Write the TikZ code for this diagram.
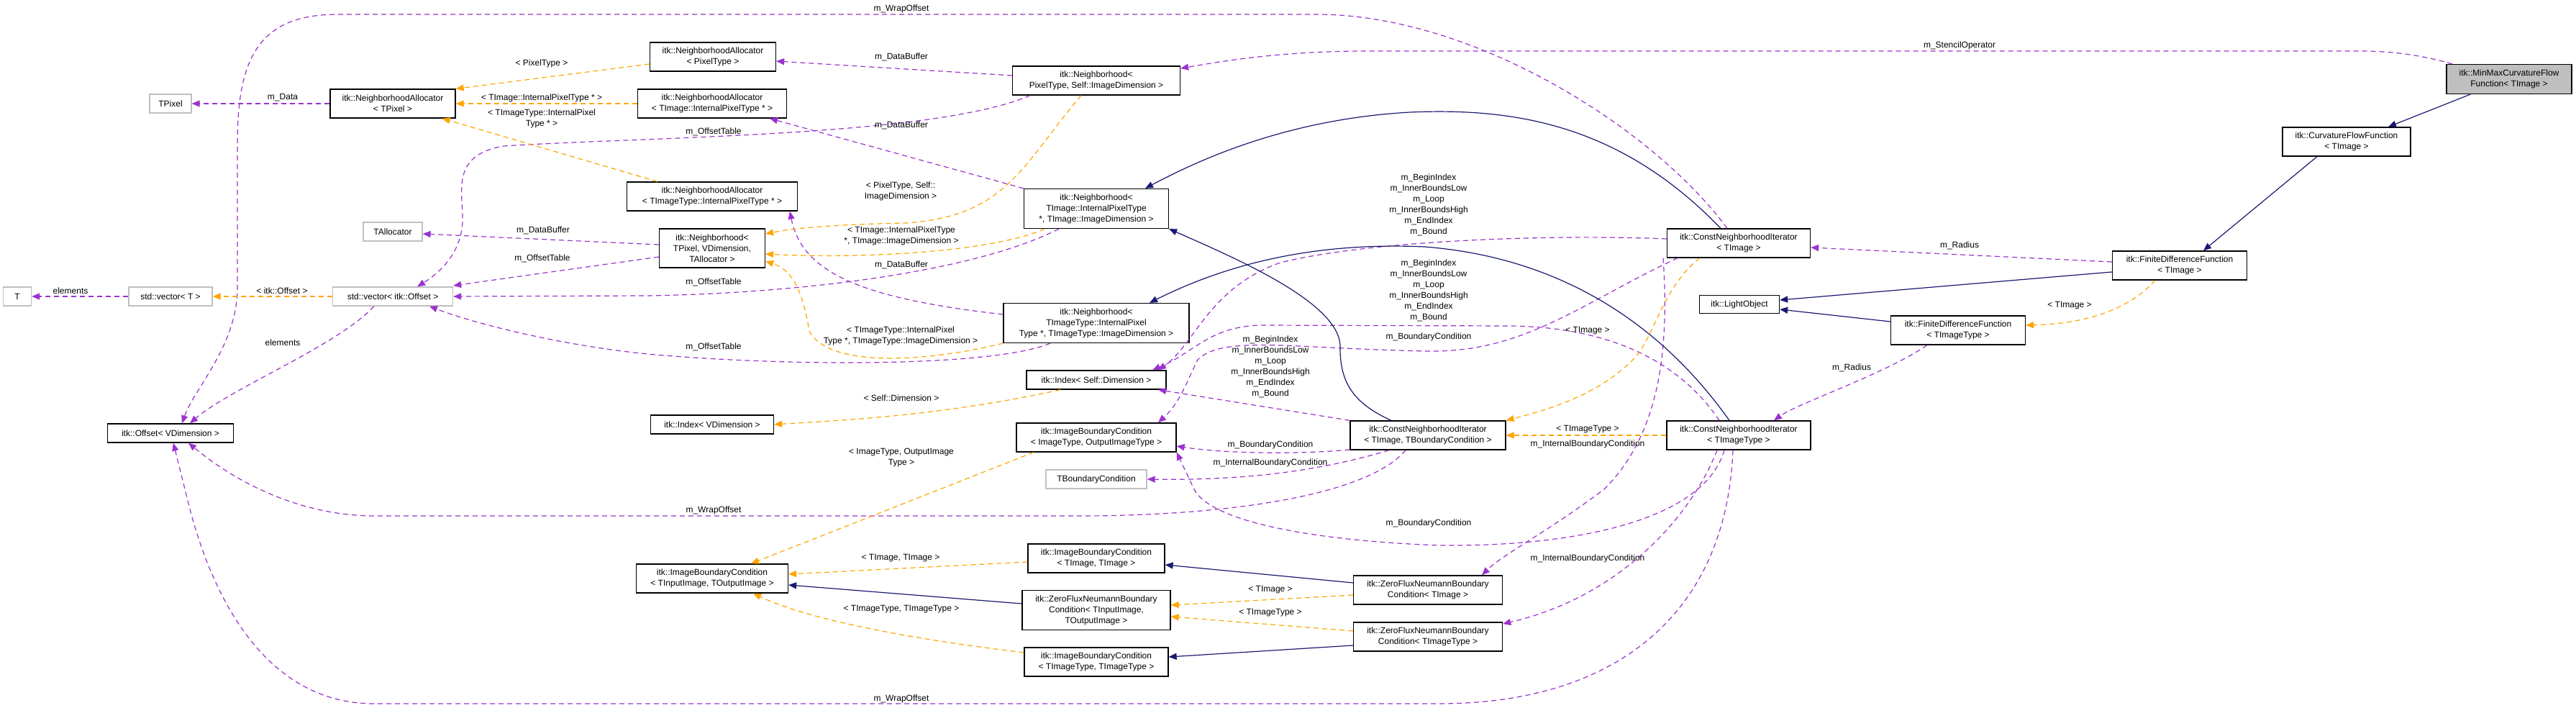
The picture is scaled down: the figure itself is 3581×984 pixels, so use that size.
\documentclass[tikz,border=0pt]{standalone}
\usepackage{fontspec}
\setmainfont{Liberation Sans}
\usetikzlibrary{arrows.meta}
\definecolor{purp}{HTML}{9A32CD}
\definecolor{orng}{HTML}{FFA500}
\definecolor{navy}{HTML}{191970}
\definecolor{gbord}{HTML}{BFBFBF}
\begin{document}
\begin{tikzpicture}[x=1pt,y=-1pt,
  font=\fontsize{12}{15}\selectfont,
  box/.style={draw=black,line width=1.3pt,rectangle,align=center,inner sep=1pt,minimum height=26pt,fill=white},
  gbox/.style={box,draw=gbord},
  use/.style={draw=purp,line width=1.2pt,dash pattern=on 7pt off 5pt,-{Triangle[length=11pt,width=9pt]}},
  tmpl/.style={draw=orng,line width=1.2pt,dash pattern=on 7pt off 5pt,-{Triangle[length=11pt,width=9pt]}},
  inh/.style={draw=navy,line width=1.2pt,-{Triangle[length=11pt,width=9pt]}},
  lb/.style={align=center,inner sep=0pt,font=\fontsize{12}{15}\selectfont}]
\useasboundingbox (0,0) rectangle (3581,984);
% nodes
\node[gbox,minimum width=58pt] (tpixel) at (237,144) {TPixel};
\node[box,minimum width=174pt,minimum height=40pt] (nat) at (546,144) {itk::NeighborhoodAllocator\\< TPixel >};
\node[gbox,minimum width=39pt] (t) at (24,412) {T};
\node[gbox,minimum width=116pt] (vect) at (237,412) {std::vector< T >};
\node[gbox,minimum width=167pt] (veco) at (546,412) {std::vector< itk::Offset >};
\node[gbox,minimum width=82pt] (talloc) at (546,322) {TAllocator};
\node[box,minimum width=175pt] (off) at (237,602) {itk::Offset< VDimension >};
\node[box,minimum width=175pt,minimum height=40pt] (nap) at (991,79) {itk::NeighborhoodAllocator\\< PixelType >};
\node[box,minimum width=207pt,minimum height=40pt] (nai) at (990,144) {itk::NeighborhoodAllocator\\< TImage::InternalPixelType * >};
\node[box,minimum width=237pt,minimum height=40pt] (nati) at (990,273) {itk::NeighborhoodAllocator\\< TImageType::InternalPixelType * >};
\node[box,minimum width=147pt,minimum height=54pt] (nbt) at (990,345) {itk::Neighborhood<\\ TPixel, VDimension,\\ TAllocator >};
\node[box,minimum width=233pt,minimum height=40pt] (nbp) at (1524,112) {itk::Neighborhood<\\ PixelType, Self::ImageDimension >};
\node[box,minimum width=201pt,minimum height=55pt] (nbi) at (1524,290) {itk::Neighborhood<\\ TImage::InternalPixelType\\ *, TImage::ImageDimension >};
\node[box,minimum width=258pt,minimum height=55pt] (nbti) at (1524,449) {itk::Neighborhood<\\ TImageType::InternalPixel\\ Type *, TImageType::ImageDimension >};
\node[box,minimum width=194pt] (idxs) at (1524,528) {itk::Index< Self::Dimension >};
\node[box,minimum width=171pt] (idxv) at (990,590) {itk::Index< VDimension >};
\node[box,minimum width=222pt,minimum height=40pt] (ibco) at (1524,608) {itk::ImageBoundaryCondition\\< ImageType, OutputImageType >};
\node[gbox,minimum width=140pt] (tbc) at (1524,666) {TBoundaryCondition};
\node[box,minimum width=211pt,minimum height=40pt] (ibcin) at (990,804) {itk::ImageBoundaryCondition\\< TInputImage, TOutputImage >};
\node[box,minimum width=190pt,minimum height=40pt] (ibct) at (1524,776) {itk::ImageBoundaryCondition\\< TImage, TImage >};
\node[box,minimum width=206pt,minimum height=55pt] (zfin) at (1524,848) {itk::ZeroFluxNeumannBoundary\\Condition< TInputImage,\\ TOutputImage >};
\node[box,minimum width=200pt,minimum height=40pt] (ibctt) at (1524,920) {itk::ImageBoundaryCondition\\< TImageType, TImageType >};
\node[box,minimum width=216pt,minimum height=40pt] (cnib) at (1985,605) {itk::ConstNeighborhoodIterator\\< TImage, TBoundaryCondition >};
\node[box,minimum width=199pt,minimum height=40pt] (cni) at (2417,338) {itk::ConstNeighborhoodIterator\\< TImage >};
\node[box,minimum width=200pt,minimum height=40pt] (cnit) at (2417,605) {itk::ConstNeighborhoodIterator\\< TImageType >};
\node[box,minimum width=207pt,minimum height=40pt] (zft) at (1985,820) {itk::ZeroFluxNeumannBoundary\\Condition< TImage >};
\node[box,minimum width=207pt,minimum height=40pt] (zftt) at (1985,885) {itk::ZeroFluxNeumannBoundary\\Condition< TImageType >};
\node[box,minimum width=111pt,minimum height=25pt] (light) at (2418,423) {itk::LightObject};
\node[box,minimum width=187pt,minimum height=40pt] (fdf) at (3030,369) {itk::FiniteDifferenceFunction\\< TImage >};
\node[box,minimum width=187pt,minimum height=40pt] (fdft) at (2722,459) {itk::FiniteDifferenceFunction\\< TImageType >};
\node[box,minimum width=178pt,minimum height=40pt] (cff) at (3262,197) {itk::CurvatureFlowFunction\\< TImage >};
\node[box,minimum width=174pt,minimum height=41pt,fill=gbord] (mm) at (3488,110) {itk::MinMaxCurvatureFlow\\Function< TImage >};

% usage (purple)
\draw[use] (nat.west) -- (tpixel.east);
\draw[use] (vect.west) -- (t.east);
\draw[use] ([xshift=-26]veco.south) .. controls (470,480) and (320,540) .. ([xshift=27]off.north);
\draw[use] ([yshift=5]nbt.west) -- ([yshift=-3]talloc.east);
\draw[use] ([yshift=-12]nbt.west) -- ([yshift=15]veco.east);
\draw[use] ([yshift=7]nbp.west) -- ([yshift=-6]nap.east);
\draw[use] ([xshift=-92]nbp.south) .. controls (1300,190) and (900,190) .. (700,203) .. controls (630,215) and (642,260) .. (643,300) .. controls (645,350) and (610,380) .. ([xshift=34]veco.north);
\draw[use] (nbi.north west) -- ([xshift=80]nai.south);
\draw[use] ([xshift=-52]nbi.south) .. controls (1350,380) and (1100,408) .. (900,411) -- (veco.east);
\draw[use] ([yshift=12]nbti.west) .. controls (1200,415) and (1115,380) .. ([xshift=108]nati.south);
\draw[use] ([xshift=-64]nbti.south) .. controls (1380,510) and (1100,510) .. (900,492) .. controls (780,480) and (660,450) .. ([xshift=51]veco.south);
\draw[use] ([xshift=-16]cni.north) .. controls (2300,180) and (2050,20) .. (1830,20) -- (470,20) .. controls (360,20) and (330,80) .. (330,200) -- (330,400) .. controls (330,480) and (270,540) .. ([xshift=16]off.north);
\draw[use] ([yshift=6]cni.west) .. controls (2150,325) and (1900,335) .. (1780,365) .. controls (1680,400) and (1660,480) .. ([xshift=86]idxs.north);
\draw[use] ([xshift=-27]cnit.north) .. controls (2340,510) and (2250,455) .. (2100,453) -- (1750,452) .. controls (1680,455) and (1660,490) .. ([xshift=78]idxs.north);
\draw[use] ([xshift=-85]cni.south) .. controls (2200,420) and (2120,490) .. (1986,488) .. controls (1800,485) and (1700,465) .. (1665,500) .. controls (1650,530) and (1640,560) .. ([xshift=86]ibco.north);
\draw[use] ([xshift=-105]cni.south) .. controls (2320,480) and (2310,600) .. (2230,680) .. controls (2150,740) and (2090,770) .. ([xshift=75]zft.north);
\draw[use] ([xshift=-30]cnit.south) .. controls (2350,720) and (2250,830) .. ([yshift=18]zftt.east);
\draw[use] ([xshift=-20]cnit.south) .. controls (2370,720) and (2200,760) .. (2000,758) .. controls (1800,750) and (1680,720) .. (1660,680) -- (ibco.south east);
\draw[use] ([xshift=-8]cnit.south) .. controls (2400,850) and (2250,978) .. (2000,978) -- (520,978) .. controls (380,978) and (300,850) .. (262,700) -- ([xshift=4]off.south);
\draw[use] (cnib.north west) -- ([xshift=86]idxs.south);
\draw[use] ([yshift=-20]cnib.west) .. controls (1800,632) and (1700,630) .. ([yshift=-12]ibco.east);
\draw[use] ([xshift=-54]cnib.south) .. controls (1850,650) and (1750,668) .. (tbc.east);
\draw[use] ([xshift=-31]cnib.south) .. controls (1900,690) and (1700,717) .. (1500,717) -- (520,717) .. controls (430,717) and (340,680) .. ([xshift=25]off.south);
\draw[use] ([yshift=5]fdf.west) -- ([yshift=-6]cni.east);
\draw[use] ([xshift=-43]fdft.south) .. controls (2620,520) and (2500,560) .. ([xshift=49]cnit.north);
\draw[use] ([xshift=-79]mm.north) .. controls (3360,75) and (3320,71) .. (3280,71) -- (1900,71) .. controls (1780,71) and (1700,85) .. ([yshift=17]nbp.east);

% template instantiation (orange)
\draw[tmpl] ([yshift=-10]nap.west) -- (nat.north east);
\draw[tmpl] (nai.west) -- (nat.east);
\draw[tmpl] ([xshift=43]nati.north west) -- ([xshift=-19]nat.south east);
\draw[tmpl] ([xshift=-21]nbp.south) .. controls (1420,230) and (1400,300) .. (1260,310) .. controls (1150,312) and (1100,318) .. ([yshift=20]nbt.east);
\draw[tmpl] ([xshift=-72]nbi.south) .. controls (1380,350) and (1200,360) .. ([yshift=-8]nbt.east);
\draw[tmpl] (nbti.south west) .. controls (1280,505) and (1150,510) .. (1125,460) .. controls (1115,400) and (1100,375) .. ([yshift=-18]nbt.east);
\draw[tmpl] (veco.west) -- (vect.east);
\draw[tmpl] ([xshift=-50]idxs.south) .. controls (1300,580) and (1150,585) .. (idxv.east);
\draw[tmpl] ([xshift=-87]ibco.south) -- ([xshift=54]ibcin.north);
\draw[tmpl] ([yshift=-5]ibct.west) -- ([yshift=6]ibcin.east);
\draw[tmpl] ([yshift=13]ibctt.west) .. controls (1200,880) and (1100,850) .. ([xshift=57]ibcin.south);
\draw[tmpl] ([yshift=-7]zft.west) -- ([yshift=7]zfin.east);
\draw[tmpl] ([yshift=8]zftt.west) -- ([yshift=-9]zfin.east);
\draw[tmpl] (cnit.west) -- (cnib.east);
\draw[tmpl] ([xshift=-54]cni.south) .. controls (2310,400) and (2300,470) .. (2270,500) .. controls (2220,550) and (2150,570) .. (cnib.north east);
\draw[tmpl] ([xshift=-34]fdf.south) .. controls (2960,430) and (2900,450) .. ([yshift=7]fdft.east);

% inheritance (navy)
\draw[inh] ([xshift=-54]mm.south) -- ([xshift=58]cff.north);
\draw[inh] ([xshift=-41]cff.south) -- ([xshift=33]fdf.north);
\draw[inh] ([yshift=-9]fdf.west) -- ([yshift=6]light.east);
\draw[inh] ([yshift=12]fdft.west) -- ([yshift=-7]light.east);
\draw[inh] ([xshift=-25]cni.north) .. controls (2250,170) and (2100,150) .. (1960,156) .. controls (1800,165) and (1680,215) .. ([xshift=68]nbi.north);
\draw[inh] ([xshift=-51]cnib.north) .. controls (1880,560) and (1862,530) .. (1863,480) .. controls (1860,420) and (1720,360) .. (nbi.south east);
\draw[inh] ([xshift=-13]cnit.north) .. controls (2330,480) and (2200,360) .. (1980,343) .. controls (1800,335) and (1680,380) .. ([xshift=74]nbti.north);
\draw[inh] ([yshift=10]zft.west) -- ([yshift=-9]ibct.east);
\draw[inh] ([yshift=9]zfin.west) -- ([yshift=-9]ibcin.east);
\draw[inh] ([yshift=-12]zftt.west) -- ([yshift=7]ibctt.east);

% labels
\node[lb] (l1) at (393,136) {m\_Data};
\node[lb] (l2) at (753,88) {< PixelType >};
\node[lb] (l3) at (753,136) {< TImage::InternalPixelType * >};
\node[lb] (l4) at (753,165) {< TImageType::InternalPixel\\Type * >};
\node[lb] (l5) at (755,320) {m\_DataBuffer};
\node[lb] (l6) at (754,359) {m\_OffsetTable};
\node[lb] (l7) at (98,404) {elements};
\node[lb] (l8) at (392,404) {< itk::Offset >};
\node[lb] (l9) at (393,476) {elements};
\node[lb] (l10) at (1253,12) {m\_WrapOffset};
\node[lb] (l11) at (1253,79) {m\_DataBuffer};
\node[lb] (l12) at (1253,174) {m\_DataBuffer};
\node[lb] (l13) at (992,183) {m\_OffsetTable};
\node[lb] (l14) at (1252,266) {< PixelType, Self::\\ImageDimension >};
\node[lb] (l15) at (1253,328) {< TImage::InternalPixelType\\*, TImage::ImageDimension >};
\node[lb] (l16) at (1253,368) {m\_DataBuffer};
\node[lb] (l17) at (992,392) {m\_OffsetTable};
\node[lb] (l18) at (1252,467) {< TImageType::InternalPixel\\Type *, TImageType::ImageDimension >};
\node[lb] (l19) at (992,482) {m\_OffsetTable};
\node[lb] (l20) at (1986,285) {m\_BeginIndex\\m\_InnerBoundsLow\\m\_Loop\\m\_InnerBoundsHigh\\m\_EndIndex\\m\_Bound};
\node[lb] (l21) at (1986,404) {m\_BeginIndex\\m\_InnerBoundsLow\\m\_Loop\\m\_InnerBoundsHigh\\m\_EndIndex\\m\_Bound};
\node[lb] (l22) at (1986,468) {m\_BoundaryCondition};
\node[lb] (l23) at (2207,460) {< TImage >};
\node[lb] (l24) at (1766,510) {m\_BeginIndex\\m\_InnerBoundsLow\\m\_Loop\\m\_InnerBoundsHigh\\m\_EndIndex\\m\_Bound};
\node[lb] (l25) at (2724,63) {m\_StencilOperator};
\node[lb] (l26) at (2724,341) {m\_Radius};
\node[lb] (l27) at (2877,425) {< TImage >};
\node[lb] (l28) at (2574,511) {m\_Radius};
\node[lb] (l29) at (1253,553) {< Self::Dimension >};
\node[lb] (l30) at (1253,636) {< ImageType, OutputImage\\Type >};
\node[lb] (l31) at (992,709) {m\_WrapOffset};
\node[lb] (l32) at (1252,776) {< TImage, TImage >};
\node[lb] (l33) at (1253,847) {< TImageType, TImageType >};
\node[lb] (l34) at (1253,971) {m\_WrapOffset};
\node[lb] (l35) at (2207,597) {< TImageType >};
\node[lb] (l36) at (2207,617) {m\_InternalBoundaryCondition};
\node[lb] (l37) at (1766,618) {m\_BoundaryCondition};
\node[lb] (l38) at (1766,643) {m\_InternalBoundaryCondition};
\node[lb] (l39) at (1986,727) {m\_BoundaryCondition};
\node[lb] (l40) at (2207,776) {m\_InternalBoundaryCondition};
\node[lb] (l41) at (1766,820) {< TImage >};
\node[lb] (l42) at (1766,852) {< TImageType >};
\end{tikzpicture}
\end{document}
